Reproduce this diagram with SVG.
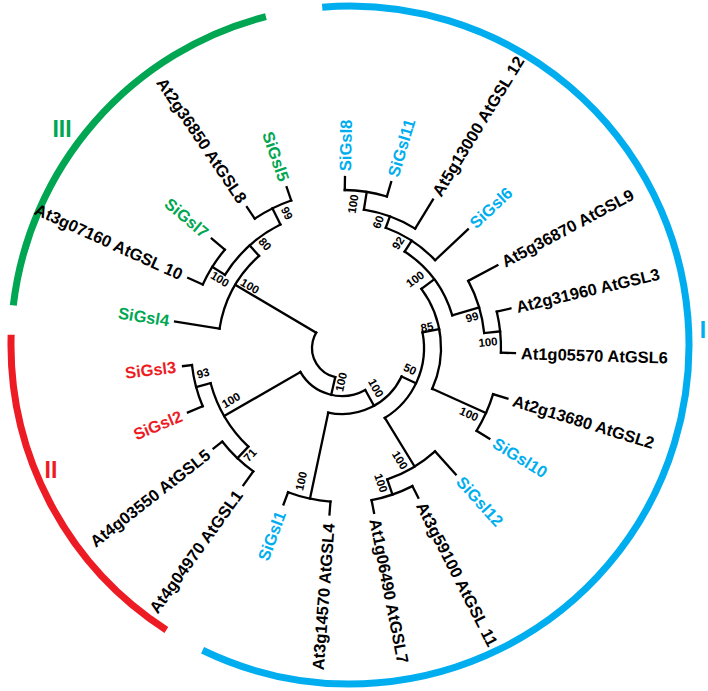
<svg xmlns="http://www.w3.org/2000/svg" width="708" height="691" viewBox="0 0 708 691">
<style>
.br{fill:none;stroke:#000;stroke-width:2.3;stroke-linecap:square}
.ln{stroke:#000;stroke-width:2.3;stroke-linecap:square}
.lab{font-family:"Liberation Sans",Arial,sans-serif;font-weight:bold;font-size:16.5px;fill:#000}
.end{text-anchor:end}
.bs{font-family:"Liberation Sans",Arial,sans-serif;font-weight:bold;font-size:11.5px;text-anchor:middle;fill:#000}
.grp{font-family:"Liberation Sans",Arial,sans-serif;font-weight:bold;font-size:23px;text-anchor:middle}
.b{fill:#00AEEF}.r{fill:#ED1C24}.g{fill:#00A651}
</style>
<rect width="708" height="691" fill="#fff"/>
<g id="clade-arcs" transform="translate(350,345)" fill="none" stroke-width="7">
<circle r="339" stroke="#00AEEF" stroke-dasharray="1244.9 3000" transform="rotate(-94.7)"/>
<circle r="339" stroke="#ED1C24" stroke-dasharray="348.5 3000" transform="rotate(122.8)"/>
<circle r="339" stroke="#00A651" stroke-dasharray="407.7 3000" transform="rotate(186.7)"/>
</g>
<g id="clade-labels">
<text class="grp b" x="703" y="338">I</text>
<text class="grp r" x="51" y="478">II</text>
<text class="grp g" x="62" y="137">III</text>
</g>
<g id="connectors" transform="translate(342,348)">
<circle class="br" r="30" stroke-dasharray="56.34 2000" transform="rotate(103)"/>
<circle class="br" r="48" stroke-dasharray="74.56 2000" transform="rotate(61)"/>
<circle class="br" r="66" stroke-dasharray="88.12 2000" transform="rotate(25.5)"/>
<circle class="br" r="154" stroke-dasharray="43.54 2000" transform="rotate(94.3)"/>
<circle class="br" r="82" stroke-dasharray="99.47 2000" transform="rotate(-11)"/>
<circle class="br" r="139" stroke-dasharray="55.8 2000" transform="rotate(48)"/>
<circle class="br" r="155" stroke-dasharray="43.28 2000" transform="rotate(63)"/>
<circle class="br" r="99" stroke-dasharray="105.4 2000" transform="rotate(-36.7)"/>
<circle class="br" r="158" stroke-dasharray="40.26 2000" transform="rotate(17)"/>
<circle class="br" r="115" stroke-dasharray="81.29 2000" transform="rotate(-57)"/>
<circle class="br" r="143" stroke-dasharray="54.91 2000" transform="rotate(-28)"/>
<circle class="br" r="159" stroke-dasharray="41.35 2000" transform="rotate(-13.2)"/>
<circle class="br" r="128" stroke-dasharray="59.65 2000" transform="rotate(-70)"/>
<circle class="br" r="140" stroke-dasharray="54.98 2000" transform="rotate(-81)"/>
<circle class="br" r="158" stroke-dasharray="42.74 2000" transform="rotate(-89)"/>
<circle class="br" r="136" stroke-dasharray="74.77 2000" transform="rotate(133.5)"/>
<circle class="br" r="152" stroke-dasharray="43.24 2000" transform="rotate(125.7)"/>
<circle class="br" r="151" stroke-dasharray="42.69 2000" transform="rotate(157.3)"/>
<circle class="br" r="124" stroke-dasharray="84.4 2000" transform="rotate(189)"/>
<circle class="br" r="138" stroke-dasharray="75.87 2000" transform="rotate(212)"/>
<circle class="br" r="153" stroke-dasharray="41.39 2000" transform="rotate(204.5)"/>
<circle class="br" r="156" stroke-dasharray="40.84 2000" transform="rotate(236)"/>
<line class="ln" x1="30" x2="124" transform="rotate(210.6)"/>
<line class="ln" x1="30" x2="48" transform="rotate(103)"/>
<line class="ln" x1="48" x2="136" transform="rotate(150)"/>
<line class="ln" x1="48" x2="66" transform="rotate(61)"/>
<line class="ln" x1="66" x2="154" transform="rotate(102)"/>
<line class="ln" x1="66" x2="82" transform="rotate(25.5)"/>
<line class="ln" x1="154" x2="167" transform="rotate(94.3)"/>
<line class="ln" x1="154" x2="167" transform="rotate(110.5)"/>
<line class="ln" x1="82" x2="139" transform="rotate(58.5)"/>
<line class="ln" x1="82" x2="99" transform="rotate(-11)"/>
<line class="ln" x1="139" x2="170" transform="rotate(48)"/>
<line class="ln" x1="139" x2="155" transform="rotate(71)"/>
<line class="ln" x1="155" x2="168" transform="rotate(63)"/>
<line class="ln" x1="155" x2="168" transform="rotate(79)"/>
<line class="ln" x1="99" x2="115" transform="rotate(-36.7)"/>
<line class="ln" x1="99" x2="158" transform="rotate(24.3)"/>
<line class="ln" x1="158" x2="173" transform="rotate(17)"/>
<line class="ln" x1="158" x2="173" transform="rotate(31.6)"/>
<line class="ln" x1="115" x2="128" transform="rotate(-57)"/>
<line class="ln" x1="115" x2="143" transform="rotate(-16.5)"/>
<line class="ln" x1="143" x2="176" transform="rotate(-28)"/>
<line class="ln" x1="143" x2="159" transform="rotate(-6)"/>
<line class="ln" x1="159" x2="173" transform="rotate(-13.2)"/>
<line class="ln" x1="159" x2="173" transform="rotate(1.7)"/>
<line class="ln" x1="128" x2="173" transform="rotate(-43.3)"/>
<line class="ln" x1="128" x2="140" transform="rotate(-70)"/>
<line class="ln" x1="140" x2="174" transform="rotate(-58.5)"/>
<line class="ln" x1="140" x2="158" transform="rotate(-81)"/>
<line class="ln" x1="158" x2="171" transform="rotate(-89)"/>
<line class="ln" x1="158" x2="173" transform="rotate(-73.5)"/>
<line class="ln" x1="136" x2="152" transform="rotate(133.5)"/>
<line class="ln" x1="136" x2="151" transform="rotate(165)"/>
<line class="ln" x1="152" x2="169" transform="rotate(125.7)"/>
<line class="ln" x1="152" x2="163" transform="rotate(142)"/>
<line class="ln" x1="151" x2="167" transform="rotate(157.3)"/>
<line class="ln" x1="151" x2="160" transform="rotate(173.5)"/>
<line class="ln" x1="124" x2="169" transform="rotate(189)"/>
<line class="ln" x1="124" x2="138" transform="rotate(228)"/>
<line class="ln" x1="138" x2="153" transform="rotate(212)"/>
<line class="ln" x1="138" x2="156" transform="rotate(243.5)"/>
<line class="ln" x1="153" x2="169" transform="rotate(204.5)"/>
<line class="ln" x1="153" x2="170" transform="rotate(220)"/>
<line class="ln" x1="156" x2="170" transform="rotate(236)"/>
<line class="ln" x1="156" x2="170" transform="rotate(251)"/>
</g>
<g id="bootstrap">
<text class="bs" transform="translate(287,213) rotate(63)" dy="0.36em">99</text>
<text class="bs" transform="translate(265,244) rotate(48)" dy="0.36em">80</text>
<text class="bs" transform="translate(220,279) rotate(32)" dy="0.36em">100</text>
<text class="bs" transform="translate(250,286) rotate(30)" dy="0.36em">100</text>
<text class="bs" transform="translate(203,373) rotate(-15)" dy="0.36em">93</text>
<text class="bs" transform="translate(231,400) rotate(-30)" dy="0.36em">100</text>
<text class="bs" transform="translate(250,455) rotate(-46.5)" dy="0.36em">71</text>
<text class="bs" transform="translate(301,481) rotate(-78)" dy="0.36em">100</text>
<text class="bs" transform="translate(341,382) rotate(-77)" dy="0.36em">100</text>
<text class="bs" transform="translate(376,388) rotate(61)" dy="0.36em">100</text>
<text class="bs" transform="translate(410,369) rotate(25.5)" dy="0.36em">50</text>
<text class="bs" transform="translate(400,460) rotate(58.5)" dy="0.36em">100</text>
<text class="bs" transform="translate(381,483) rotate(71)" dy="0.36em">100</text>
<text class="bs" transform="translate(469,414) rotate(24.3)" dy="0.36em">100</text>
<text class="bs" transform="translate(427,327) rotate(-11)" dy="0.36em">85</text>
<text class="bs" transform="translate(415,279) rotate(-36.7)" dy="0.36em">100</text>
<text class="bs" transform="translate(472,317) rotate(-16.5)" dy="0.36em">99</text>
<text class="bs" transform="translate(488,342) rotate(-6)" dy="0.36em">100</text>
<text class="bs" transform="translate(398,243) rotate(-57)" dy="0.36em">92</text>
<text class="bs" transform="translate(378,222) rotate(-70)" dy="0.36em">60</text>
<text class="bs" transform="translate(353,204) rotate(-81)" dy="0.36em">100</text>
</g>
<g id="leaves" transform="translate(342,348)">
<g id="SiGsl8"><text class="lab b" x="177" dy="0.36em" transform="rotate(-89)">SiGsl8</text></g>
<g id="SiGsl11"><text class="lab b" x="179" dy="0.36em" transform="rotate(-73.5)">SiGsl11</text></g>
<g id="AtGSL12"><text class="lab" x="180" dy="0.36em" transform="rotate(-58.5)">At5g13000 AtGSL 12</text></g>
<g id="SiGsl6"><text class="lab b" x="179" dy="0.36em" transform="rotate(-43.3)">SiGsl6</text></g>
<g id="AtGSL9"><text class="lab" x="182" dy="0.36em" transform="rotate(-28)">At5g36870 AtGSL9</text></g>
<g id="AtGSL3"><text class="lab" x="179" dy="0.36em" transform="rotate(-13.2)">At2g31960 AtGSL3</text></g>
<g id="AtGSL6"><text class="lab" x="179" dy="0.36em" transform="rotate(1.7)">At1g05570 AtGSL6</text></g>
<g id="AtGSL2"><text class="lab" x="179" dy="0.36em" transform="rotate(17)">At2g13680 AtGSL2</text></g>
<g id="SiGsl10"><text class="lab b" x="179" dy="0.36em" transform="rotate(31.6)">SiGsl10</text></g>
<g id="SiGsl12"><text class="lab b" x="176" dy="0.36em" transform="rotate(48)">SiGsl12</text></g>
<g id="AtGSL11"><text class="lab" x="174" dy="0.36em" transform="rotate(63)">At3g59100 AtGSL 11</text></g>
<g id="AtGSL7"><text class="lab" x="174" dy="0.36em" transform="rotate(79)">At1g06490 AtGSL7</text></g>
<g id="AtGSL4"><text class="lab end" x="-176" dy="0.36em" transform="rotate(-85.7)">At3g14570 AtGSL4</text></g>
<g id="SiGsl1"><text class="lab b end" x="-175" dy="0.36em" transform="rotate(-69.5)">SiGsl1</text></g>
<g id="AtGSL1"><text class="lab end" x="-177" dy="0.36em" transform="rotate(-54.3)">At4g04970 AtGSL1</text></g>
<g id="AtGSL5"><text class="lab end" x="-170" dy="0.36em" transform="rotate(-38)">At4g03550 AtGSL5</text></g>
<g id="SiGsl2"><text class="lab r end" x="-174" dy="0.36em" transform="rotate(-22.7)">SiGsl2</text></g>
<g id="SiGsl3"><text class="lab r end" x="-167" dy="0.36em" transform="rotate(-6.5)">SiGsl3</text></g>
<g id="SiGsl4"><text class="lab g end" x="-175" dy="0.36em" transform="rotate(9)">SiGsl4</text></g>
<g id="AtGSL10"><text class="lab end" x="-176" dy="0.36em" transform="rotate(24.5)">At3g07160 AtGSL 10</text></g>
<g id="SiGsl7"><text class="lab g end" x="-177" dy="0.36em" transform="rotate(40)">SiGsl7</text></g>
<g id="AtGSL8"><text class="lab end" x="-177" dy="0.36em" transform="rotate(56)">At2g36850 AtGSL8</text></g>
<g id="SiGsl5"><text class="lab g end" x="-177" dy="0.36em" transform="rotate(71)">SiGsl5</text></g>
</g>
</svg>
